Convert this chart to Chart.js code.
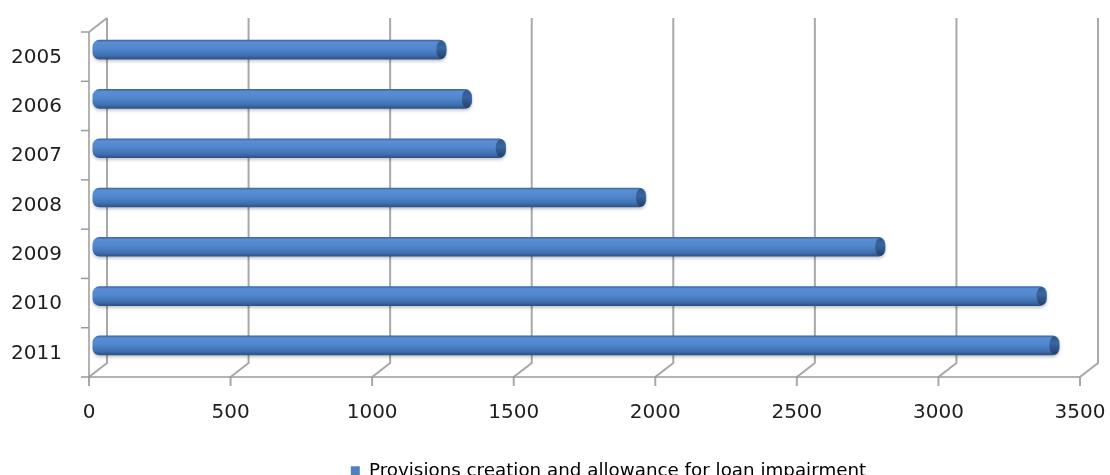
<!DOCTYPE html>
<html>
<head>
<meta charset="utf-8">
<script src="https://cdn.jsdelivr.net/npm/chart.js@4/dist/chart.umd.min.js"></script>
<style>
  html, body { margin: 0; padding: 0; background: #fff; overflow: hidden; }
  #wrap { width: 1110px; height: 490px; }
</style>
</head>
<body>
<div id="wrap"><canvas id="c" width="1110" height="490"></canvas></div>
<script>
// data
const years = ["2005", "2006", "2007", "2008", "2009", "2010", "2011"];
const provisions = [1230, 1320, 1440, 1935, 2780, 3350, 3395];
const xTicks = [0, 500, 1000, 1500, 2000, 2500, 3000, 3500];
const seriesName = "Provisions creation and allowance for loan impairment";

// half depth of the fake 3d box
const DX = 9, DY = 7;
const BAR_H = 19;
// where the plot area (bar plane) should end up
const target = { left: 98, top: 25, right: 1089, bottom: 370 };
let pad = { top: 25, right: 21, left: 0, bottom: 0 };
let xAxisH = 78;

function noScalePadding(s) {
  s.paddingLeft = 0; s.paddingRight = 0; s.paddingTop = 0; s.paddingBottom = 0;
}

function barGradient(ctx) {
  const chart = ctx.chart;
  const ys = chart.scales.y;
  if (!ys || ctx.dataIndex === undefined) return "#4f81bd";
  const cy = ys.getPixelForValue(ctx.dataIndex);
  const g = chart.ctx.createLinearGradient(0, cy - BAR_H / 2, 0, cy + BAR_H / 2);
  g.addColorStop(0, "#3d68a3");
  g.addColorStop(0.12, "#5a8ed4");
  g.addColorStop(0.45, "#5187cd");
  g.addColorStop(0.8, "#3f71b0");
  g.addColorStop(1, "#2d5288");
  return g;
}

// 3d frame: back wall gridlines, floor diagonals, front axes
const frame3d = {
  id: "frame3d",
  afterLayout(chart) {
    // legend sits a bit right of centre in the picture
    if (chart.legend) { chart.legend.left += 15; chart.legend.right += 15; }
  },
  beforeDatasetsDraw(chart) {
    const { ctx, chartArea: a, scales } = chart;
    const x = scales.x;
    ctx.save();
    ctx.lineWidth = 2;
    ctx.strokeStyle = "#a8a8a8";
    xTicks.forEach(v => {
      const px = x.getPixelForValue(v);
      ctx.beginPath();
      ctx.moveTo(px + DX, a.top - DY);
      ctx.lineTo(px + DX, a.bottom - DY);
      ctx.lineTo(px - DX, a.bottom + DY);
      ctx.lineTo(px - DX, a.bottom + DY + 9);
      ctx.stroke();
    });
    // top of left wall
    const x0 = x.getPixelForValue(0);
    ctx.beginPath();
    ctx.moveTo(x0 - DX, a.top + DY);
    ctx.lineTo(x0 + DX, a.top - DY);
    ctx.stroke();
    // front axes
    ctx.strokeStyle = "#9a9a9a";
    ctx.lineWidth = 1.5;
    ctx.beginPath();
    ctx.moveTo(x0 - DX, a.top + DY);
    ctx.lineTo(x0 - DX, a.bottom + DY);
    ctx.lineTo(x.getPixelForValue(3500) - DX, a.bottom + DY);
    ctx.stroke();
    // category ticks on the left
    const step = (a.bottom - a.top) / years.length;
    for (let i = 0; i <= years.length; i++) {
      const ty = a.top + DY + i * step;
      ctx.beginPath();
      ctx.moveTo(x0 - DX - 8, ty);
      ctx.lineTo(x0 - DX, ty);
      ctx.stroke();
    }
    ctx.restore();
    // soft shadow under the cylinders
    ctx.save();
    ctx.shadowColor = "rgba(0,0,0,0.22)";
    ctx.shadowOffsetY = 2;
    ctx.shadowBlur = 3;
  },
  afterDatasetsDraw(chart) {
    const { ctx } = chart;
    ctx.restore();
    const meta = chart.getDatasetMeta(0);
    ctx.save();
    meta.data.forEach(el => {
      const h = el.height;
      const g = ctx.createLinearGradient(0, el.y - h / 2, 0, el.y + h / 2);
      g.addColorStop(0, "#2f5788");
      g.addColorStop(0.4, "#3a659f");
      g.addColorStop(1, "#223f66");
      ctx.fillStyle = g;
      ctx.beginPath();
      ctx.ellipse(el.x - 5, el.y, 5, h / 2 - 0.5, 0, 0, Math.PI * 2);
      ctx.fill();
    });
    ctx.restore();
  }
};

Chart.defaults.font.family = "'DejaVu Sans', Verdana, sans-serif";
Chart.defaults.color = "#1e1e1e";

const chart = new Chart(document.getElementById("c"), {
  type: "bar",
  data: {
    labels: years,
    datasets: [{
      label: seriesName,
      data: provisions,
      base: -18,
      clip: false,
      backgroundColor: barGradient,
      borderWidth: 0,
      borderRadius: 7,
      borderSkipped: false,
      barThickness: BAR_H
    }]
  },
  options: {
    indexAxis: "y",
    responsive: false,
    animation: false,
    layout: { padding: pad },
    scales: {
      x: {
        min: 0,
        max: 3500,
        afterBuildTicks: s => { s.ticks = xTicks.map(v => ({ value: v })); },
        grid: { display: false },
        border: { display: false },
        ticks: {
          font: { size: 20 },
          padding: 23,
          labelOffset: -DX,
          maxRotation: 0,
          callback: v => String(v)
        },
        afterFit: s => { s.height = xAxisH; noScalePadding(s); }
      },
      y: {
        grid: { display: false },
        border: { display: false },
        ticks: { font: { size: 20 }, padding: 28, labelOffset: DY + 1 },
        afterFit: s => { s.width = 98; noScalePadding(s); }
      }
    },
    plugins: {
      tooltip: { enabled: false },
      legend: {
        position: "bottom",
        fullSize: false,
        labels: {
          font: { size: 18.3 },
          boxWidth: 9,
          boxHeight: 9,
          padding: 10,
          generateLabels: () => [{
            text: seriesName,
            fillStyle: "#4f81bd",
            strokeStyle: "#4f81bd",
            lineWidth: 0,
            datasetIndex: 0
          }]
        }
      }
    }
  },
  plugins: [frame3d]
});

// nudge the layout so the plot area lands where it is in the picture
for (let k = 0; k < 3; k++) {
  const a = chart.chartArea;
  pad = {
    top: pad.top + (target.top - a.top),
    left: pad.left + (target.left - a.left),
    right: pad.right + (a.right - target.right),
    bottom: 0
  };
  xAxisH += a.bottom - target.bottom;
  chart.options.layout.padding = pad;
  chart.update();
}
</script>
</body>
</html>
